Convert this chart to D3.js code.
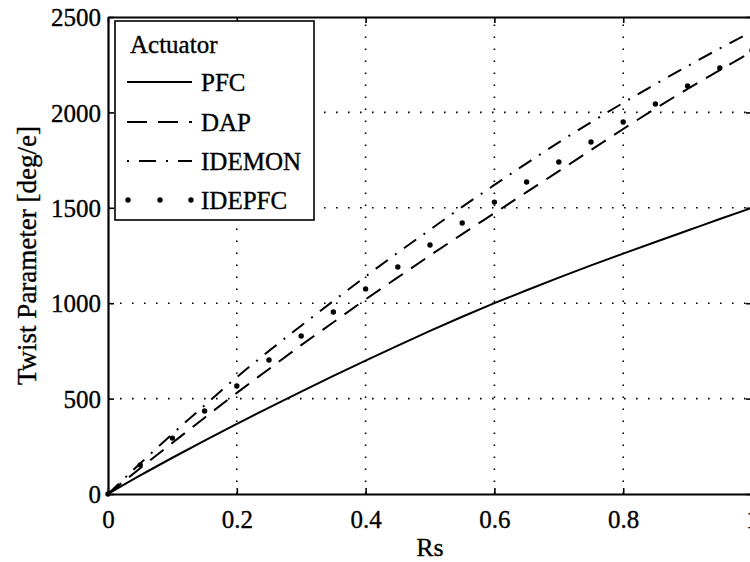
<!DOCTYPE html>
<html>
<head>
<meta charset="utf-8">
<script src="https://cdn.jsdelivr.net/npm/d3@7"></script>
<style>
  html, body { margin: 0; padding: 0; background: #fff; }
  svg { display: block; }
  text { font-family: "Liberation Serif", "DejaVu Serif", serif; fill: #000; stroke: #000; stroke-width: 0.35px; }
</style>
</head>
<body>
<svg id="chart" width="750" height="562"></svg>
<script>
// ---- data ----
const rs = [0, 0.05, 0.1, 0.15, 0.2, 0.25, 0.3, 0.35, 0.4, 0.45, 0.5,
            0.55, 0.6, 0.65, 0.7, 0.75, 0.8, 0.85, 0.9, 0.95, 1.0];
const pfc = [0, 97, 190, 280, 367, 453, 537, 619, 699, 778, 855,
             929, 1000, 1068, 1134, 1198, 1260, 1321, 1381, 1441, 1500];
const dap = [0, 135, 268, 400, 530, 655, 780, 900, 1020, 1135, 1250,
             1362, 1472, 1582, 1692, 1803, 1913, 2020, 2123, 2222, 2318];
const idemon = [0, 160, 315, 465, 612, 750, 882, 1012, 1140, 1265, 1385,
                1505, 1620, 1733, 1843, 1948, 2050, 2148, 2243, 2335, 2423];
const idepfc = [0, 152, 293, 435, 566, 702, 828, 954, 1075, 1190, 1305,
                1420, 1530, 1635, 1740, 1845, 1950, 2044, 2138, 2233, 2325];
const xTicks = [0, 0.2, 0.4, 0.6, 0.8, 1];
const xTickLabels = ["0", "0.2", "0.4", "0.6", "0.8", "1"];
const yTicks = [0, 500, 1000, 1500, 2000, 2500];
const yTickLabels = ["0", "500", "1000", "1500", "2000", "2500"];
const legendTitle = "Actuator";
const seriesNames = ["PFC", "DAP", "IDEMON", "IDEPFC"];
const xLabel = "Rs";
const yLabel = "Twist Parameter [deg/e]";

// ---- layout ----
const FONT = '"Liberation Serif", "DejaVu Serif", serif';
const L = 108, R = 752, T = 17, B = 494;
const svg = d3.select("#chart");
const x = d3.scaleLinear().domain([0, 1]).range([L, R]);
const y = d3.scaleLinear().domain([0, 2500]).range([B, T]);

// grid
const grid = svg.append("g");
grid.selectAll("line.gx").data(xTicks.filter(d => d > 0 && d < 1)).enter()
  .append("line")
  .attr("x1", d => x(d)).attr("x2", d => x(d))
  .attr("y1", B).attr("y2", T)
  .attr("stroke", "#000").attr("stroke-width", 1.6)
  .attr("stroke-dasharray", "1.6,10.4");
grid.selectAll("line.gy").data(yTicks.filter(d => d > 0 && d < 2500)).enter()
  .append("line")
  .attr("x1", L).attr("x2", R)
  .attr("y1", d => y(d)).attr("y2", d => y(d))
  .attr("stroke", "#000").attr("stroke-width", 1.6)
  .attr("stroke-dasharray", "1.6,10.4");

// axes
const fmtX = d => xTickLabels[xTicks.indexOf(d)];
const fmtY = d => yTickLabels[yTicks.indexOf(d)];

const xAxis = svg.append("g").attr("transform", `translate(0,${B})`)
  .call(d3.axisBottom(x).tickValues(xTicks).tickFormat(fmtX).tickSize(-6).tickSizeOuter(0));
xAxis.selectAll("text").attr("y", 25).attr("dy", "0.35em")
  .style("font-size", "25px").style("font-family", FONT);

const yAxis = svg.append("g").attr("transform", `translate(${L},0)`)
  .call(d3.axisLeft(y).tickValues(yTicks).tickFormat(fmtY).tickSize(-6).tickSizeOuter(0));
yAxis.selectAll("text").attr("x", -7).attr("dy", "0.35em")
  .style("font-size", "25px").style("font-family", FONT);

const xAxisTop = svg.append("g").attr("transform", `translate(0,${T})`)
  .call(d3.axisTop(x).tickValues(xTicks).tickFormat("").tickSize(-6).tickSizeOuter(0));
const yAxisRight = svg.append("g").attr("transform", `translate(${R},0)`)
  .call(d3.axisRight(y).tickValues(yTicks).tickFormat("").tickSize(-6).tickSizeOuter(0));

[xAxis, yAxis, xAxisTop, yAxisRight].forEach(g => {
  g.select(".domain").attr("stroke", "#000").attr("stroke-width", 2.2);
  g.selectAll(".tick line").attr("stroke", "#000").attr("stroke-width", 1.6);
});

// axis labels
svg.append("text").attr("x", (L + R) / 2).attr("y", 547)
  .attr("text-anchor", "middle").attr("dy", "0.35em")
  .style("font-size", "26px").style("font-family", FONT).text(xLabel);
svg.append("text")
  .attr("transform", `translate(27,${(T + B) / 2}) rotate(-90)`)
  .attr("text-anchor", "middle").attr("dy", "0.35em")
  .style("font-size", "27px").style("font-family", FONT).text(yLabel);

// series
const pts = arr => rs.map((r, i) => [r, arr[i]]);
const line = d3.line().x(d => x(d[0])).y(d => y(d[1])).curve(d3.curveMonotoneX);

const plot = svg.append("g");
plot.append("path").datum(pts(pfc)).attr("d", line)
  .attr("fill", "none").attr("stroke", "#000").attr("stroke-width", 2);
plot.append("path").datum(pts(dap)).attr("d", line)
  .attr("fill", "none").attr("stroke", "#000").attr("stroke-width", 2)
  .attr("stroke-dasharray", "17,10");
plot.append("path").datum(pts(idemon)).attr("d", line)
  .attr("fill", "none").attr("stroke", "#000").attr("stroke-width", 2)
  .attr("stroke-dasharray", "15,9,2,9");
plot.selectAll("circle.idepfc").data(pts(idepfc)).enter()
  .append("circle")
  .attr("cx", d => x(d[0])).attr("cy", d => y(d[1])).attr("r", 2.7)
  .attr("fill", "#000");

// legend
const lg = svg.append("g");
lg.append("rect").attr("x", 115).attr("y", 21).attr("width", 199).attr("height", 199)
  .attr("fill", "#fff").attr("stroke", "#000").attr("stroke-width", 1.6);
lg.append("text").attr("x", 130).attr("y", 44).attr("dy", "0.35em")
  .style("font-size", "25px").style("font-family", FONT).text(legendTitle);
const rowsY = [82, 122, 161, 200];
const x0 = 127, x1 = 192;
lg.append("line").attr("x1", x0).attr("x2", x1).attr("y1", rowsY[0]).attr("y2", rowsY[0])
  .attr("stroke", "#000").attr("stroke-width", 2);
lg.append("line").attr("x1", x0).attr("x2", x1).attr("y1", rowsY[1]).attr("y2", rowsY[1])
  .attr("stroke", "#000").attr("stroke-width", 2).attr("stroke-dasharray", "20,11");
lg.append("line").attr("x1", x0).attr("x2", x1).attr("y1", rowsY[2]).attr("y2", rowsY[2])
  .attr("stroke", "#000").attr("stroke-width", 2).attr("stroke-dasharray", "2,10,17,10");
[128, 160, 191].forEach(cx => {
  lg.append("circle").attr("cx", cx).attr("cy", rowsY[3]).attr("r", 2.7).attr("fill", "#000");
});
seriesNames.forEach((n, i) => {
  lg.append("text").attr("x", 201).attr("y", rowsY[i]).attr("dy", "0.35em")
    .style("font-size", "25px").style("font-family", FONT).text(n);
});
</script>
</body>
</html>
